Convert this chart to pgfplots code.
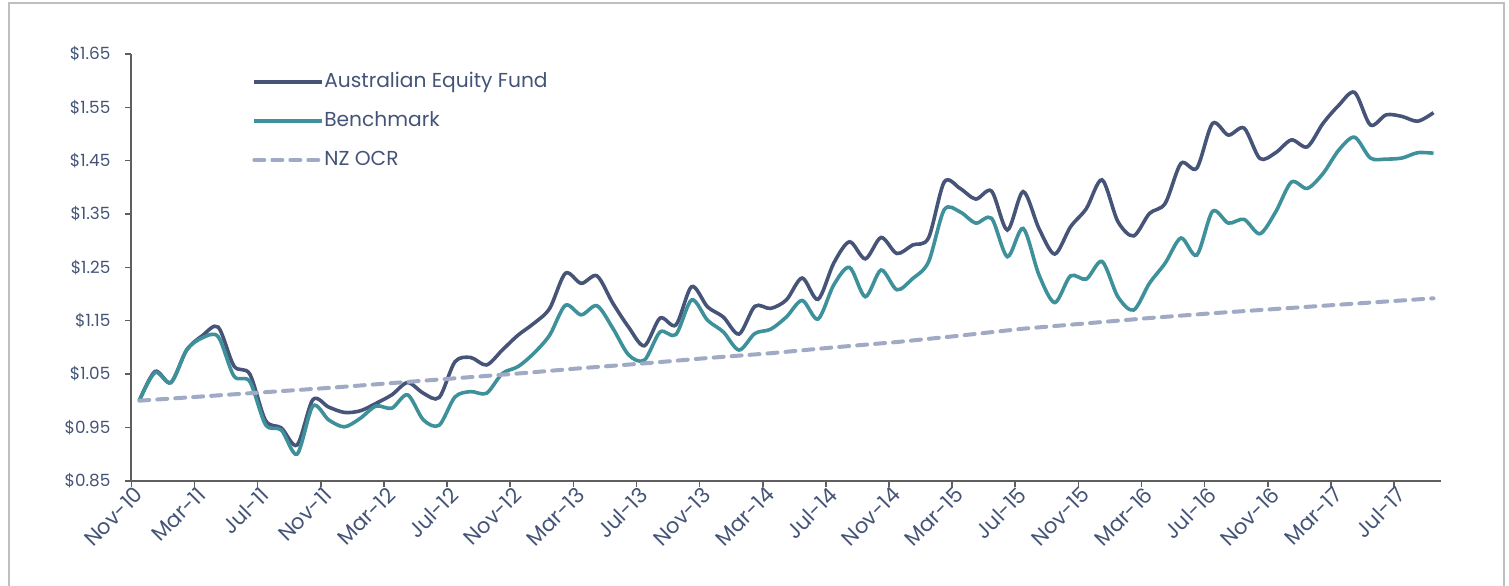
\documentclass[border=0pt]{standalone}
\usepackage{pgfplots}
\pgfplotsset{compat=1.18}
\usepackage{pgfplotstable}
\usepackage{fontspec}
\setmainfont{Poppins}
\definecolor{fundc}{RGB}{70,84,120}
\definecolor{benchc}{RGB}{62,144,154}
\definecolor{ocrc}{RGB}{160,170,196}
\definecolor{txtc}{RGB}{68,84,120}
\definecolor{axc}{RGB}{95,95,95}
\definecolor{framec}{RGB}{191,191,191}

\pgfplotstableread{
i fund bench
0 1.000 1.000
1 1.055 1.053
2 1.034 1.034
3 1.095 1.095
4 1.122 1.118
5 1.138 1.120
6 1.065 1.046
7 1.050 1.036
8 0.963 0.955
9 0.949 0.945
10 0.917 0.900
11 1.002 0.990
12 0.988 0.964
13 0.978 0.951
14 0.981 0.967
15 0.995 0.990
16 1.011 0.986
17 1.034 1.011
18 1.014 0.964
19 1.006 0.954
20 1.073 1.007
21 1.081 1.017
22 1.067 1.014
23 1.095 1.051
24 1.123 1.064
25 1.145 1.089
26 1.173 1.123
27 1.239 1.179
28 1.220 1.161
29 1.234 1.178
30 1.183 1.136
31 1.138 1.086
32 1.103 1.076
33 1.155 1.129
34 1.142 1.124
35 1.214 1.189
36 1.176 1.151
37 1.157 1.129
38 1.125 1.095
39 1.177 1.126
40 1.173 1.134
41 1.189 1.157
42 1.230 1.188
43 1.190 1.153
44 1.258 1.217
45 1.298 1.250
46 1.266 1.195
47 1.306 1.245
48 1.276 1.208
49 1.292 1.229
50 1.305 1.260
51 1.410 1.358
52 1.398 1.354
53 1.378 1.333
54 1.393 1.342
55 1.320 1.270
56 1.392 1.323
57 1.323 1.236
58 1.275 1.184
59 1.326 1.234
60 1.360 1.228
61 1.414 1.261
62 1.336 1.195
63 1.309 1.170
64 1.351 1.220
65 1.370 1.258
66 1.445 1.305
67 1.436 1.273
68 1.520 1.355
69 1.498 1.333
70 1.511 1.340
71 1.454 1.313
72 1.465 1.354
73 1.489 1.410
74 1.476 1.398
75 1.520 1.426
76 1.554 1.470
77 1.578 1.494
78 1.517 1.455
79 1.536 1.453
80 1.533 1.455
81 1.524 1.465
82 1.540 1.464
}\perf

\pgfplotstableread{
i ocr
0 1.000
4 1.008
8 1.016
12 1.024
16 1.033
20 1.042
24 1.051
28 1.061
32 1.070
36 1.080
40 1.089
44 1.100
48 1.110
52 1.122
56 1.135
60 1.145
64 1.155
68 1.164
72 1.172
76 1.180
80 1.188
82 1.192
}\ocr

\begin{document}
\begin{tikzpicture}
\begin{axis}[
  scale only axis, width=655pt, height=213.35pt,
  xmin=-0.5, xmax=82.5, ymin=0.85, ymax=1.65,
  axis x line=bottom, axis y line=left,
  axis line style={-, axc, line width=1pt},
  tick style={axc, line width=0.8pt},
  tick align=outside, major tick length=3pt,
  xtick={-0.5,3.5,...,79.5},
  xticklabels={Nov-10,Mar-11,Jul-11,Nov-11,Mar-12,Jul-12,Nov-12,Mar-13,Jul-13,Nov-13,Mar-14,Jul-14,Nov-14,Mar-15,Jul-15,Nov-15,Mar-16,Jul-16,Nov-16,Mar-17,Jul-17},
  x tick label style={rotate=45, anchor=east, xshift=4.6pt, yshift=-4.2pt, font=\fontsize{10.6}{11}\selectfont, text=txtc},
  ytick={0.85,0.95,1.05,1.15,1.25,1.35,1.45,1.55,1.65},
  yticklabel={\$\pgfmathprintnumber[fixed,fixed zerofill,precision=2]{\tick}},
  y tick label style={font=\fontsize{8.4}{10}\selectfont, text=txtc, xshift=-4pt},
  /pgf/number format/assume math mode=true,
  legend style={at={(0.092,0.843)}, anchor=west, draw=none, fill=none,
    font=\fontsize{10.1}{12}\selectfont, text=txtc, inner sep=0pt,
    row sep=9.5pt, nodes={inner sep=0pt, text height=7.5pt, text depth=2.5pt}},
  legend cell align=left,
  legend image code/.code={\draw[#1] (0pt,0pt) -- (34pt,0pt);},
  /tikz/every even column/.append style={column sep=6pt},
  clip=false,
]
\addplot[fundc, line width=1.8pt, smooth, tension=0.5] table[x=i,y=fund] {\perf};
\addlegendentry{Australian Equity Fund}
\addplot[benchc, line width=1.8pt, smooth, tension=0.5] table[x=i,y=bench] {\perf};
\addlegendentry{Benchmark}
\addplot[ocrc, line width=2pt, dash pattern=on 5pt off 4pt, line cap=round] table[x=i,y=ocr] {\ocr};
\addlegendentry{NZ OCR}
\end{axis}
\draw[framec, line width=0.8pt] (-61.2pt,-60pt) -- (-61.2pt,238.85pt) -- (686.3pt,238.85pt) -- (686.3pt,-60pt);
\pgfresetboundingbox
\useasboundingbox (-65.7pt,-52.15pt) rectangle (688.8pt,240.35pt);
\end{tikzpicture}
\end{document}
